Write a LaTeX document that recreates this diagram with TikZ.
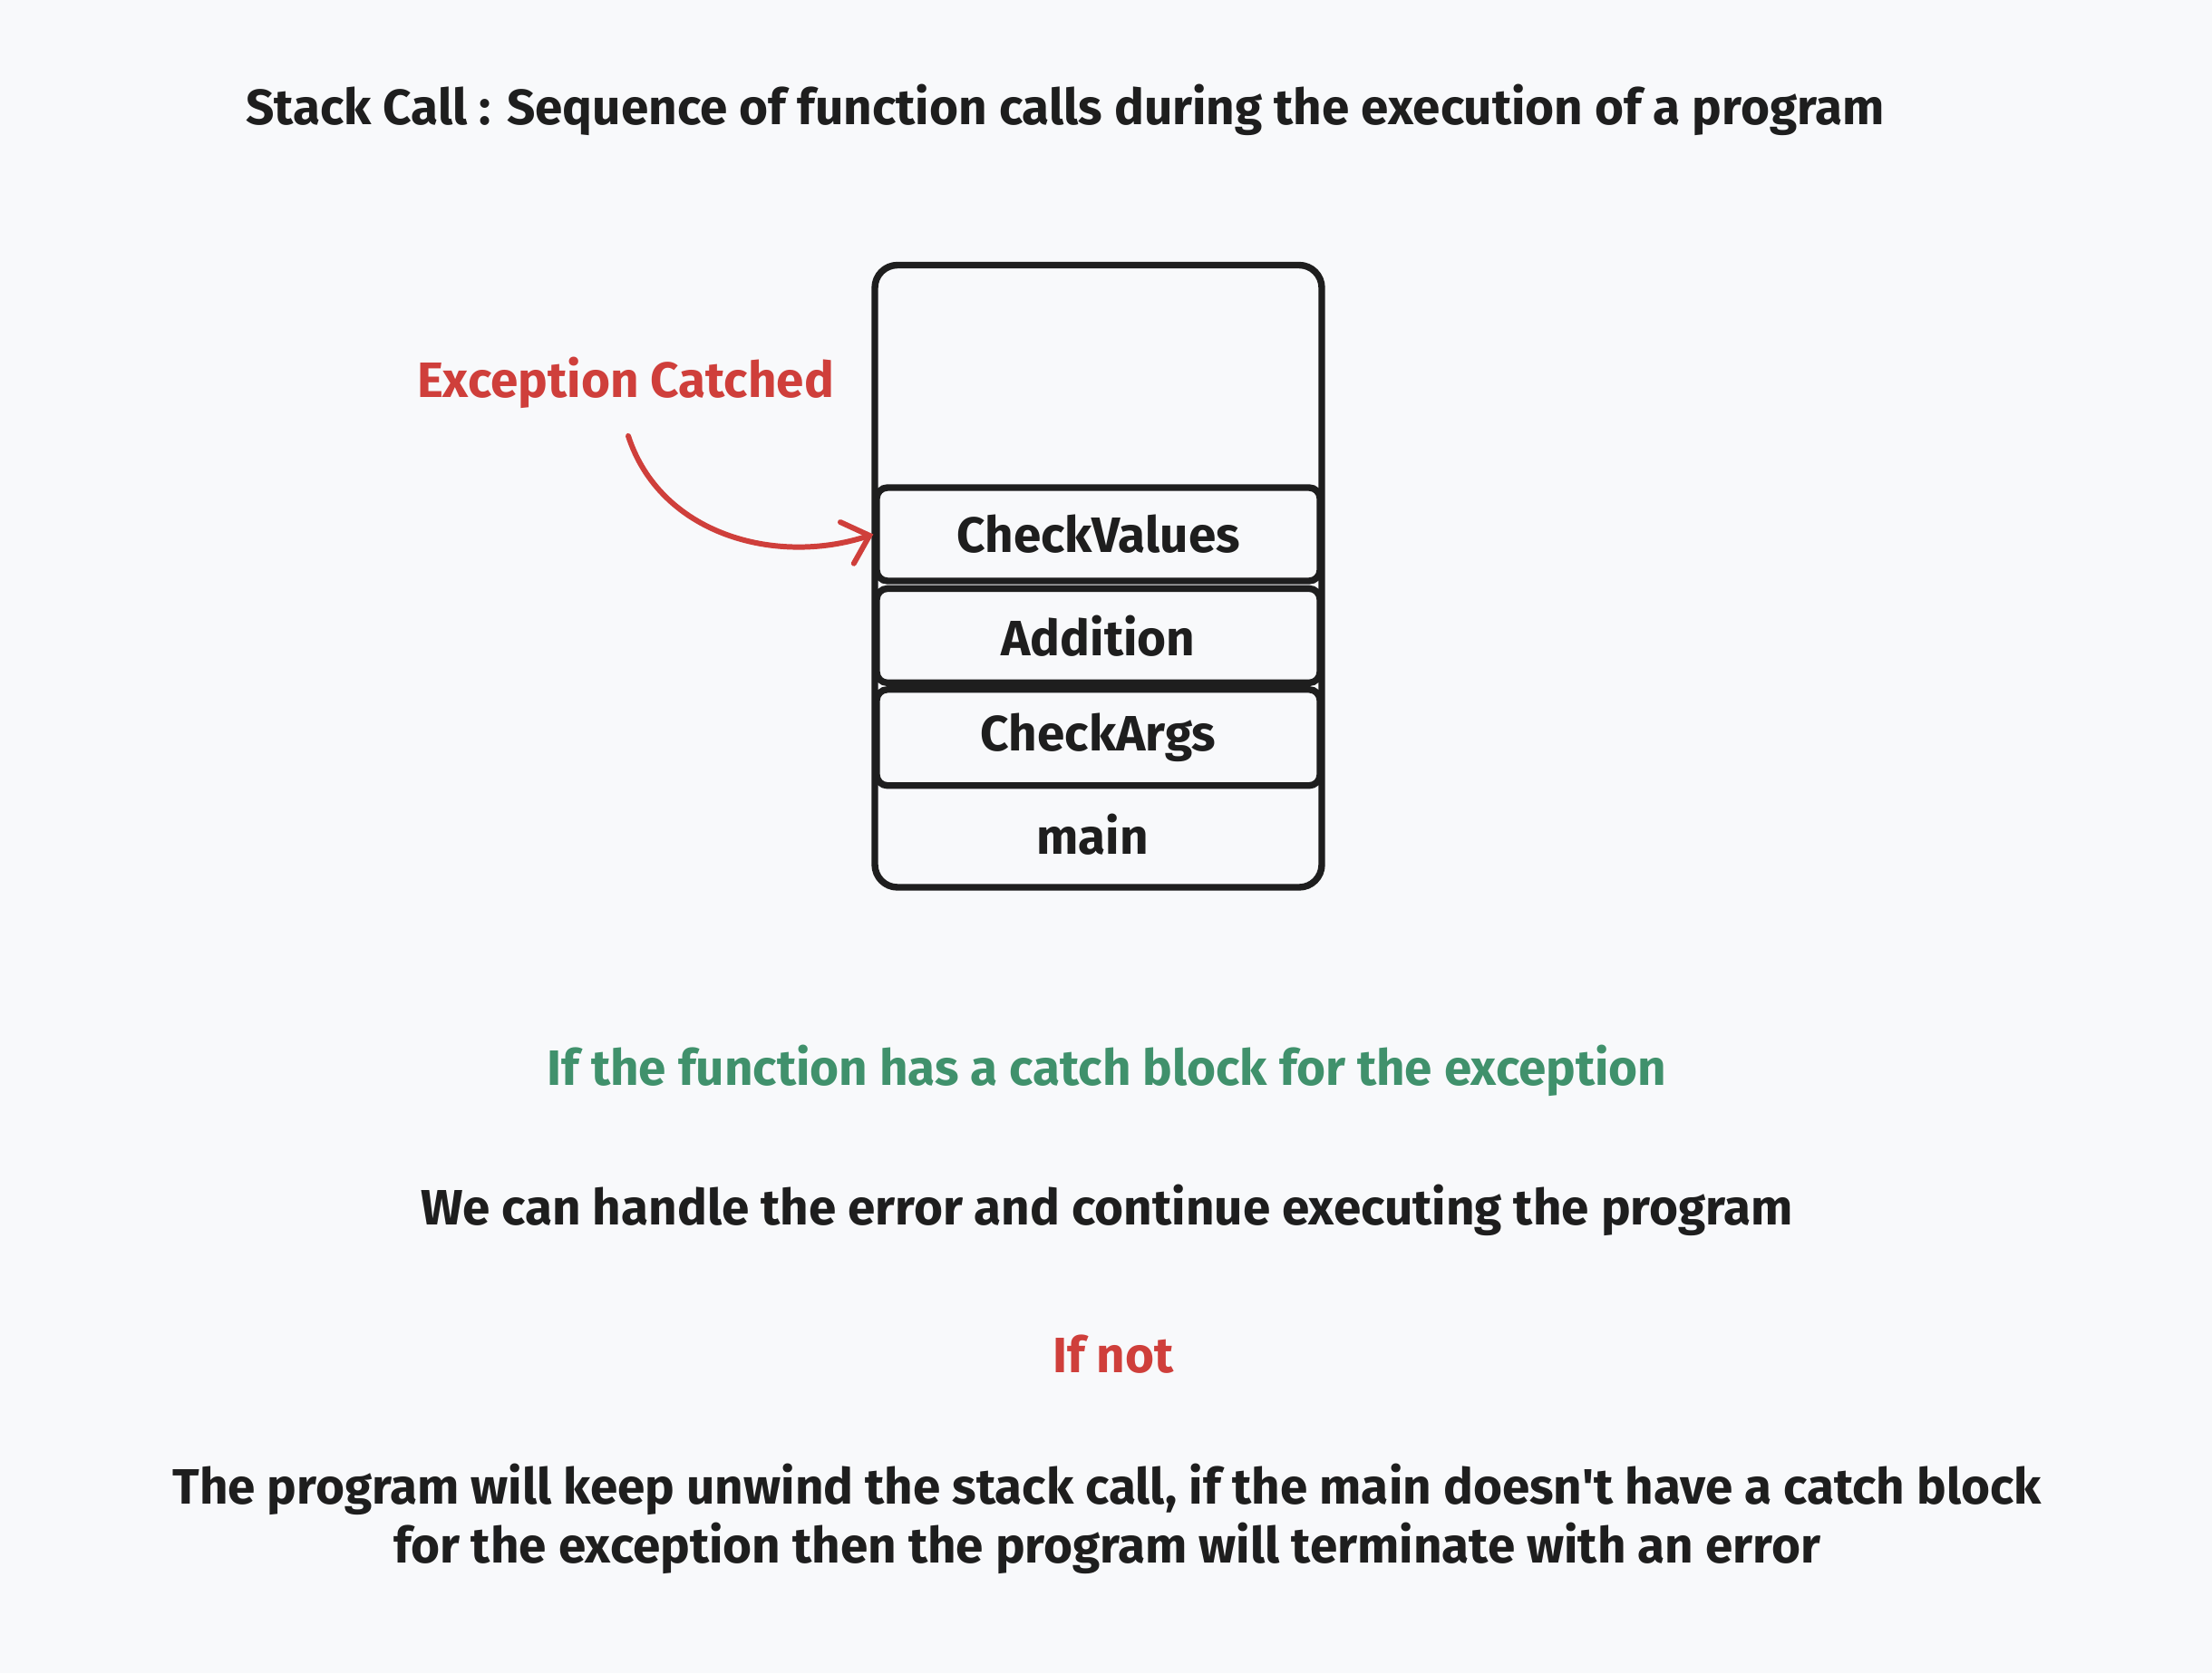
\documentclass[tikz,border=0pt]{standalone}
\usepackage{fontspec}
\setmainfont{Fira Sans}
\usetikzlibrary{arrows.meta,positioning}

\definecolor{paper}{HTML}{F8F9FB}
\definecolor{ink}{HTML}{1E1E1E}
\definecolor{catchred}{HTML}{CF3F3B}
\definecolor{catchgreen}{HTML}{40916C}

\tikzset{
  txt/.style={font=\fontsize{15.6}{18.4}\selectfont\bfseries, text=ink, inner sep=0pt},
  frame/.style={draw=ink, line width=2.1pt, rounded corners=1.2mm,
    minimum width=4.89cm, inner sep=0pt},
}

\begin{document}
\begin{tikzpicture}
      \useasboundingbox (0,0) rectangle (24.4,18.46);
      \fill[paper] (0,0) rectangle (24.4,18.46);
      \node[txt] (title) at (11.75,17.25) {Stack Call : Sequence of function calls during the execution of a program};
      % the stack
      \node[draw=ink, line width=2.1pt, rounded corners=2.5mm,
        minimum width=4.93cm, minimum height=6.865cm] (stack) at (12.115,12.1025) {};
      \node[frame, txt, minimum height=1.03cm] (checkvalues) at (12.115,12.565) {CheckValues};
      \node[frame, txt, minimum height=1.04cm, below=0.01 of checkvalues] (addition) {Addition};
      \node[frame, txt, minimum height=1.06cm, below=0 of addition] (checkargs) {CheckArgs};
      \node[txt] (main) at (12.05,9.25) {main};
      % the catch
      \node[txt, text=catchred] (catched) at (6.90,14.24) {Exception Catched};
      \coordinate (catchfrom) at (6.93,13.65);
      \draw[catchred, line width=1.7pt, line cap=round,
        -{Straight Barb[length=2.6mm,width=4.8mm,line cap=round]}]
        (catchfrom) to[out=-72,in=198] (checkvalues.west);
      % the text below
      \node[txt, text=catchgreen] (ifcatch) at (12.21,6.65) {If the function has a catch block for the exception};
      \node[txt] (handle) at (12.21,5.11) {We can handle the error and continue executing the program};
      \node[txt, text=catchred] (ifnot) at (12.28,3.52) {If not};
      \node[txt, align=center] (unwind) at (12.21,1.705) {The program will keep unwind the stack call, if the main doesn\textquotesingle t have a catch block\\for the exception then the program will terminate with an error};
\end{tikzpicture}
\end{document}
